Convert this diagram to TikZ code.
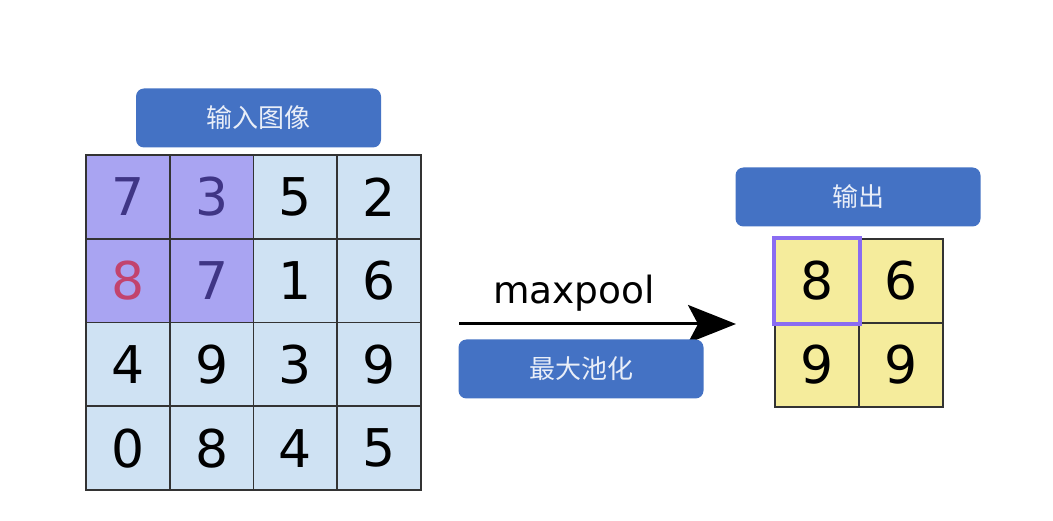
\documentclass[tikz,border=0pt]{standalone}
\usepackage{fontspec}
\setmainfont{DejaVu Sans}
\newfontfamily\cjk{Noto Sans CJK SC}
\usetikzlibrary{arrows.meta}
\definecolor{lblblue}{HTML}{4472C4}
\definecolor{cellblue}{HTML}{CFE2F3}
\definecolor{cellpurple}{HTML}{A9A4F2}
\definecolor{cellyellow}{HTML}{F5EC9C}
\definecolor{digpurple}{HTML}{3F3585}
\definecolor{digred}{HTML}{C2436D}
\definecolor{hlborder}{HTML}{8A6CF2}
\definecolor{gridline}{HTML}{333333}
\tikzset{
  lbl/.style={fill=lblblue, rounded corners=8pt, minimum width=245pt, minimum height=59pt, inner sep=0pt, text=white!88!lblblue, font=\cjk\fontsize{26}{26}\selectfont},
  cell/.style={draw=gridline, line width=1.8pt, minimum size=83.8pt, inner sep=0pt, font=\fontsize{52}{52}\selectfont},
}
\begin{document}
\begin{tikzpicture}[x=1pt,y=-1pt]
\useasboundingbox (0,0) rectangle (1053,521);
\fill[white] (0,0) rectangle (1053,521);
% input grid
\def\cw{83.75}
\foreach \r/\row in {0/{7,3,5,2},1/{8,7,1,6},2/{4,9,3,9},3/{0,8,4,5}}{
  \foreach \v [count=\c from 0] in \row {
    \pgfmathsetmacro{\cx}{86+\cw*\c+\cw/2}
    \pgfmathsetmacro{\cy}{155+\cw*\r+\cw/2}
    \pgfmathtruncatemacro{\hl}{(\r<2)&&(\c<2)}
    \ifnum\hl=1
      \node[cell, fill=cellpurple, text=digpurple] (in-\r-\c) at (\cx,\cy) {\v};
    \else
      \node[cell, fill=cellblue] (in-\r-\c) at (\cx,\cy) {\v};
    \fi
  }
}
\node[cell, fill=cellpurple, text=digred] (in-1-0) at (86+\cw/2,155+\cw+\cw/2) {8};
\node[lbl] (inlbl) at (258.5,118) {输入图像};
% arrow
\coordinate (astart) at (459,324);
\coordinate (aend) at (736,324);
\draw[line width=3pt, -{Stealth[length=48pt, width=38pt, inset=10pt]}] (astart) -- (aend);
\node[font=\fontsize{37.5}{37.5}\selectfont, anchor=base] (mp) at (574,304) {maxpool};
\node[lbl] (poollbl) at (581,369) {最大池化};
% output
\node[lbl] (outlbl) at (858,197) {输出};
\node[cell, fill=cellyellow] (o-0-0) at (817,281) {8};
\node[cell, fill=cellyellow] (o-0-1) at (901,281) {6};
\node[cell, fill=cellyellow] (o-1-0) at (817,365) {9};
\node[cell, fill=cellyellow] (o-1-1) at (901,365) {9};
\draw[hlborder, line width=4.5pt] (o-0-0.north west) rectangle (o-0-0.south east);
\end{tikzpicture}
\end{document}
